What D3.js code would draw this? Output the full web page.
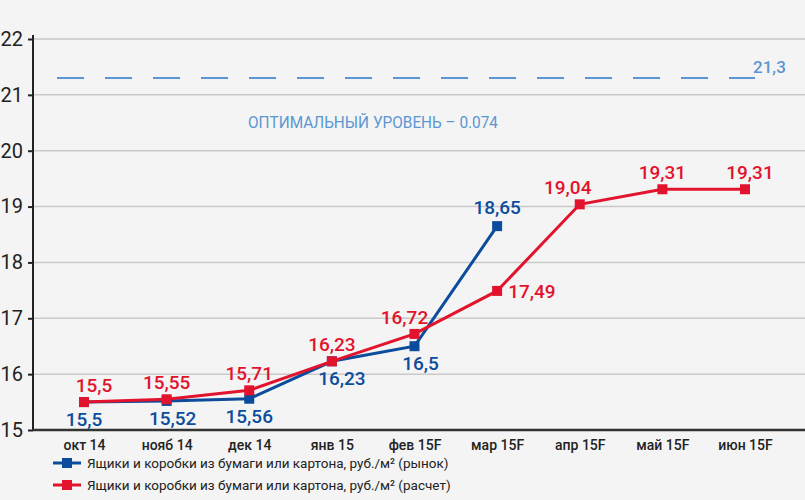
<!DOCTYPE html>
<html>
<head>
<meta charset="utf-8">
<script src="https://cdn.jsdelivr.net/npm/d3@7"></script>
<style>
  body { margin: 0; background: #f4f4f4; }
  svg { display: block; font-family: Roboto, "Open Sans", sans-serif; }
</style>
</head>
<body>
<script>

/////// Data

var months = ['окт 14', 'нояб 14', 'дек 14', 'янв 15', 'фев 15F', 'мар 15F', 'апр 15F', 'май 15F', 'июн 15F'];
var market = [15.5, 15.52, 15.56, 16.23, 16.5, 18.65];
var calc = [15.5, 15.55, 15.71, 16.23, 16.72, 17.49, 19.04, 19.31, 19.31];
var yTicks = [15, 16, 17, 18, 19, 20, 21, 22];
var optimal = 21.3;
var optimalText = 'ОПТИМАЛЬНЫЙ УРОВЕНЬ – 0.074';
var legendNames = [
  'Ящики и коробки из бумаги или картона, руб./м² (рынок)',
  'Ящики и коробки из бумаги или картона, руб./м² (расчет)'
];

/////// Setup

var width = 805, height = 500;
var blue = '#0b4c9c', red = '#e2132c', light = '#5a97d2';

var svg = d3.select('body')
  .append('svg')
      .attr('width', width)
      .attr('height', height);

svg.append('rect')
    .attr('width', width)
    .attr('height', height)
    .attr('fill', '#f4f4f4');

var x = d3.scalePoint()
    .domain(months)
    .range([84, 745]);

var y = d3.scaleLinear()
    .domain([15, 22])
    .range([430, 39]);

var fmt = function (v) { return String(v).replace('.', ','); };

//// Grid and axes

svg.append('g')
  .selectAll('line')
  .data(yTicks.slice(1))
  .join('line')
      .attr('x1', 33)
      .attr('x2', width)
      .attr('y1', function (d) { return y(d); })
      .attr('y2', function (d) { return y(d); })
      .attr('stroke', '#c9c9c9')
      .attr('stroke-width', 1.5);

var yAxis = svg.append('g')
    .attr('transform', 'translate(33,0)')
    .call(d3.axisLeft(y)
        .tickValues(yTicks)
        .tickFormat(d3.format('d'))
        .tickSize(5)
        .tickPadding(5));

yAxis.select('.domain')
    .attr('d', 'M0,35V431')
    .attr('stroke', '#222')
    .attr('stroke-width', 2);
yAxis.selectAll('.tick line').attr('stroke', '#222').attr('stroke-width', 2);
yAxis.selectAll('.tick text')
    .attr('font-size', 20)
    .attr('fill', '#222')
    .attr('font-family', 'Roboto, sans-serif');

var xAxis = svg.append('g')
    .attr('transform', 'translate(0,430)')
    .call(d3.axisBottom(x).tickSize(0).tickPadding(10));

xAxis.select('.domain')
    .attr('d', 'M33,0H' + width)
    .attr('stroke', '#333')
    .attr('stroke-width', 2.5);
xAxis.selectAll('.tick text')
    .attr('font-size', 14)
    .attr('font-weight', 500)
    .attr('fill', '#222')
    .attr('font-family', 'Roboto, sans-serif');

//// Optimal level

svg.append('line')
    .attr('x1', 57)
    .attr('x2', 755)
    .attr('y1', y(optimal))
    .attr('y2', y(optimal))
    .attr('stroke', light)
    .attr('stroke-width', 2)
    .attr('stroke-dasharray', '27,21');

svg.append('text')
    .attr('x', 753)
    .attr('y', y(optimal) - 5)
    .attr('font-size', 17)
    .attr('font-weight', 500)
    .attr('fill', light)
    .text(fmt(optimal));

svg.append('text')
    .attr('x', 248)
    .attr('y', 128)
    .attr('font-size', 17)
    .attr('fill', light)
    .attr('textLength', 250)
    .attr('lengthAdjust', 'spacingAndGlyphs')
    .text(optimalText);

//// Series

var line = d3.line()
    .x(function (d, i) { return x(months[i]); })
    .y(function (d) { return y(d); });

var drawSeries = function (values, color) {
  var g = svg.append('g');
  g.append('path')
      .attr('d', line(values))
      .attr('fill', 'none')
      .attr('stroke', color)
      .attr('stroke-width', 3);
  g.selectAll('rect')
    .data(values)
    .join('rect')
        .attr('x', function (d, i) { return x(months[i]) - 5; })
        .attr('y', function (d) { return y(d) - 5; })
        .attr('width', 10)
        .attr('height', 10)
        .attr('fill', color);
  return g;
};

drawSeries(market, blue);
drawSeries(calc, red);

// labels: red above, blue below, with a few nudges off the lines
svg.append('g')
  .selectAll('text')
  .data(calc)
  .join('text')
      .attr('x', function (d, i) {
        var nudge = i === 0 ? 10 : i === 4 ? -10 : i === 6 ? -12 : i === 8 ? 5 : 0;
        return x(months[i]) + (i === 5 ? 11 : nudge);
      })
      .attr('y', function (d, i) { return y(d) + (i === 5 ? 7 : -10); })
      .attr('text-anchor', function (d, i) { return i === 5 ? 'start' : 'middle'; })
      .attr('font-size', 19)
      .attr('font-weight', 500)
      .attr('fill', red)
      .text(fmt);

svg.append('g')
  .selectAll('text')
  .data(market)
  .join('text')
      .attr('x', function (d, i) { return x(months[i]) + (i === 1 ? 6 : i === 3 ? 10 : i === 4 ? 6 : 0); })
      .attr('y', function (d, i) { return y(d) + (i === 5 ? -12 : 24); })
      .attr('text-anchor', 'middle')
      .attr('font-size', 19)
      .attr('font-weight', 500)
      .attr('fill', blue)
      .text(fmt);

//// Legend

var legend = svg.append('g')
  .selectAll('g')
  .data(legendNames)
  .join('g')
      .attr('transform', function (d, i) { return 'translate(0,' + (463 + i * 22) + ')'; });

legend.append('line')
    .attr('x1', 53)
    .attr('x2', 81)
    .attr('stroke', function (d, i) { return i ? red : blue; })
    .attr('stroke-width', 3);

legend.append('rect')
    .attr('x', 62)
    .attr('y', -5)
    .attr('width', 10)
    .attr('height', 10)
    .attr('fill', function (d, i) { return i ? red : blue; });

legend.append('text')
    .attr('x', 87)
    .attr('y', 5)
    .attr('font-size', 13.5)
    .attr('fill', '#222')
    .text(function (d) { return d; });

</script>
</body>
</html>
